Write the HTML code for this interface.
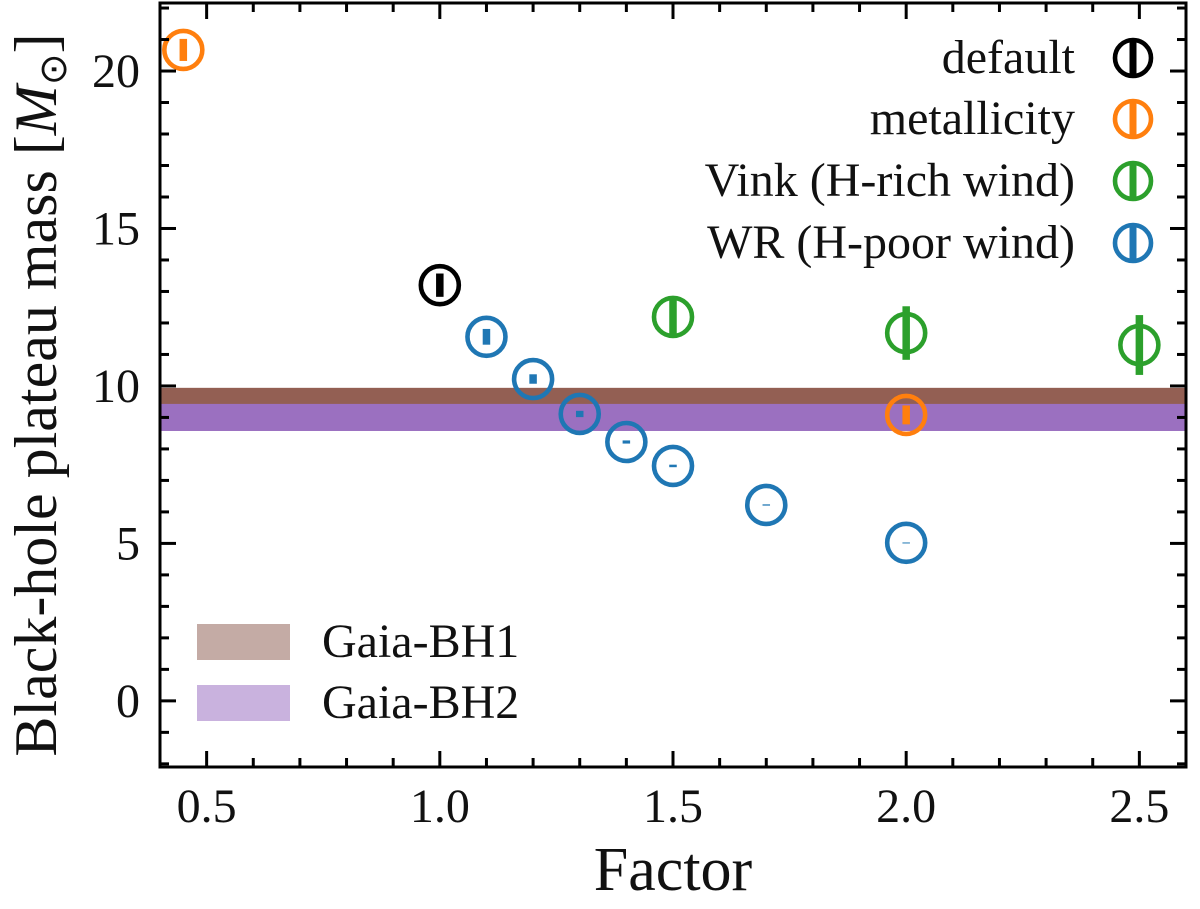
<!DOCTYPE html>
<html><head><meta charset="utf-8"><style>
body{margin:0;background:#fff;}
svg text{font-family:"Liberation Serif",serif;fill:#111;}
</style></head><body>
<svg id="chart" width="1200" height="904" viewBox="0 0 1200 904" xmlns="http://www.w3.org/2000/svg">
<g id="bands"></g><g id="marks"></g><g id="axes"></g><g id="legends"></g>
</svg>
<script>
const bandNames=["Gaia-BH1","Gaia-BH2"];
const bandLow=[9.3,8.57];
const bandHigh=[9.94,9.43];
const bandColors=["#935f53","#9b70c0"];
const legendBandColors=["#c4aba5","#c9b2de"];
const seriesNames=["default","metallicity","Vink (H-rich wind)","WR (H-poor wind)"];
const seriesColors=["#000000","#ff7f0e","#2ca02c","#1f77b4"];
const defX=[1.0], defY=[13.2], defE=[0.37];
const metX=[0.45,2.0], metY=[20.67,9.08], metE=[0.35,0.3];
const vinkX=[1.5,2.0,2.5], vinkY=[12.19,11.68,11.3], vinkE=[0.6,0.85,0.95];
const wrX=[1.1,1.2,1.3,1.4,1.5,1.7,2.0], wrY=[11.56,10.22,9.11,8.22,7.46,6.22,5.02], wrE=[0.25,0.15,0.1,0.05,0.04,0.02,0.01];
const xTicks=[0.5,1.0,1.5,2.0,2.5], xTickLabels=["0.5","1.0","1.5","2.0","2.5"];
const yTicks=[0,5,10,15,20], yTickLabels=["0","5","10","15","20"];

const L=160,R=1186,T=3,B=767;
const xMin=0.4,xMax=2.6,yMin=-2.1,yMax=22.16;
const sx=v=>L+(v-xMin)/(xMax-xMin)*(R-L);
const sy=v=>B-(v-yMin)/(yMax-yMin)*(B-T);
const NS="http://www.w3.org/2000/svg";
function mk(tag,attrs,parent){const e=document.createElementNS(NS,tag);for(const k in attrs)e.setAttribute(k,attrs[k]);parent.appendChild(e);return e;}
const gB=document.getElementById('bands'),gM=document.getElementById('marks'),gA=document.getElementById('axes'),gL=document.getElementById('legends');

bandNames.forEach((n,i)=>{
 const r=mk('rect',{x:L,y:sy(bandHigh[i]),width:R-L,height:sy(bandLow[i])-sy(bandHigh[i]),fill:bandColors[i]},gB);
 
 
});

function drawSeries(xs,ys,es,color,name){
 xs.forEach((x,i)=>{
  const g=mk('g',{},gM);
  
  
  mk('circle',{cx:sx(x),cy:sy(ys[i]),r:19,fill:'none',stroke:color,'stroke-width':4.6},g);
  const h=Math.max(sy(ys[i]-es[i])-sy(ys[i]+es[i]),1);
  const w=7.5;
  mk('rect',{x:sx(x)-w/2,y:sy(ys[i]+es[i]),width:w,height:h,fill:color},g);
 });
}
drawSeries(defX,defY,defE,seriesColors[0],'default');
drawSeries(metX,metY,metE,seriesColors[1],'metallicity');
drawSeries(vinkX,vinkY,vinkE,seriesColors[2],'vink');
drawSeries(wrX,wrY,wrE,seriesColors[3],'wr');

const fr=mk('rect',{x:L,y:T,width:R-L,height:B-T,fill:'none',stroke:'#000','stroke-width':3},gA);


for(let k=4;k<=26;k++){const v=k/10;const X=sx(v);const maj=k%5===0;const len=maj?16:9;
 mk('line',{x1:X,y1:B,x2:X,y2:B-len,stroke:'#000','stroke-width':3},gA);
 mk('line',{x1:X,y1:T,x2:X,y2:T+len,stroke:'#000','stroke-width':3},gA);}
xTicks.forEach((v,i)=>{const t=mk('text',{x:sx(v),y:822,'font-size':48,'text-anchor':'middle'},gA);t.textContent=xTickLabels[i];
 
 });
for(let k=-2;k<=22;k++){const Y=sy(k);const maj=k%5===0;const len=maj?16:9;
 mk('line',{x1:L,y1:Y,x2:L+len,y2:Y,stroke:'#000','stroke-width':3},gA);
 mk('line',{x1:R,y1:Y,x2:R-len,y2:Y,stroke:'#000','stroke-width':3},gA);}
yTicks.forEach((v,i)=>{const t=mk('text',{x:140,y:sy(v)+16,'font-size':48,'text-anchor':'end'},gA);t.textContent=yTickLabels[i];
 
 });
const xt=mk('text',{x:673,y:890,'font-size':62,'text-anchor':'middle'},gA);xt.textContent='Factor';


const yt=mk('text',{x:0,y:0,'font-size':60,'text-anchor':'middle',transform:'translate(56,395) rotate(-90)'},gA);
yt.innerHTML='Black-hole plateau mass [<tspan font-style="italic">M</tspan><tspan font-size="38" dy="10">⊙</tspan><tspan dy="-10">]</tspan>';



const legY=[58,119,181,243];
seriesNames.forEach((n,i)=>{
 const g=mk('g',{},gL);
 
 
 const t=mk('text',{x:1075,y:legY[i]+15,'font-size':48,'text-anchor':'end'},g);t.textContent=n;
 mk('circle',{cx:1133,cy:legY[i],r:18,fill:'none',stroke:seriesColors[i],'stroke-width':4.6},g);
 mk('rect',{x:1129.5,y:legY[i]-18,width:7,height:36,fill:seriesColors[i]},g);
});
const bandLegY=[642,703];
bandNames.forEach((n,i)=>{
 const g=mk('g',{},gL);
 
 
 mk('rect',{x:197,y:bandLegY[i]-18,width:93,height:36,fill:legendBandColors[i]},g);
 const t=mk('text',{x:322,y:bandLegY[i]+15,'font-size':48},g);t.textContent=n;
});
</script>
</body></html>
